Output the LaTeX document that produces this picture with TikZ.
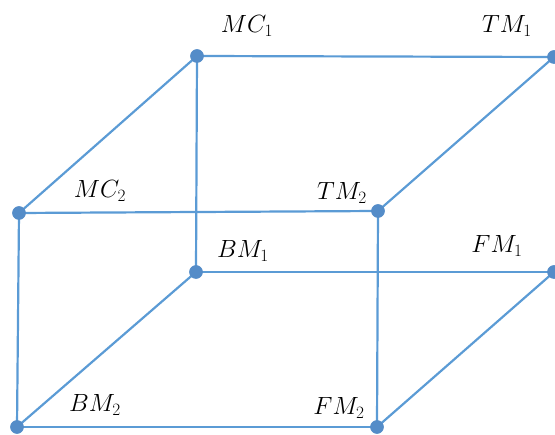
\documentclass[tikz,border=0pt]{standalone}
\usepackage{tikz}
\definecolor{edgeblue}{RGB}{91,155,213}
\definecolor{dotblue}{RGB}{84,140,200}
\begin{document}
\begin{tikzpicture}[x=1pt,y=-1pt,
  vtx/.style={circle,fill=dotblue,draw=dotblue,line width=0.6pt,inner sep=0pt,minimum size=13pt},
  edge/.style={draw=edgeblue,line width=2.2pt},
  lbl/.style={font=\fontsize{24}{28}\selectfont,inner sep=0pt}]
\useasboundingbox (0,0) rectangle (555,435);
\clip (0,0) rectangle (555,435);
\coordinate (MC1) at (197,56);
\coordinate (TM1) at (554,57);
\coordinate (MC2) at (19,213);
\coordinate (TM2) at (378,211);
\coordinate (BM1) at (196,272);
\coordinate (FM1) at (554,272);
\coordinate (BM2) at (17,427);
\coordinate (FM2) at (377,427);
\draw[edge] (MC1) -- (TM1);
\draw[edge] (MC1) -- (MC2);
\draw[edge] (MC1) -- (BM1);
\draw[edge] (TM1) -- (TM2);
\draw[edge] (MC2) -- (TM2);
\draw[edge] (MC2) -- (BM2);
\draw[edge] (TM2) -- (FM2);
\draw[edge] (BM1) -- (FM1);
\draw[edge] (BM1) -- (BM2);
\draw[edge] (FM1) -- (FM2);
\draw[edge] (BM2) -- (FM2);
\foreach \p in {MC1,TM1,MC2,TM2,BM1,FM1,BM2,FM2}
  \node[vtx] (d\p) at (\p) {};
\node[lbl] (lMC1) at (247,26) {$MC_1$};
\node[lbl] (lTM1) at (507,26) {$TM_1$};
\node[lbl] (lMC2) at (100,191) {$MC_2$};
\node[lbl] (lTM2) at (342,193) {$TM_2$};
\node[lbl] (lBM1) at (243,251) {$BM_1$};
\node[lbl] (lFM1) at (497,246) {$FM_1$};
\node[lbl] (lBM2) at (95,405) {$BM_2$};
\node[lbl] (lFM2) at (339,408) {$FM_2$};
\end{tikzpicture}
\end{document}
